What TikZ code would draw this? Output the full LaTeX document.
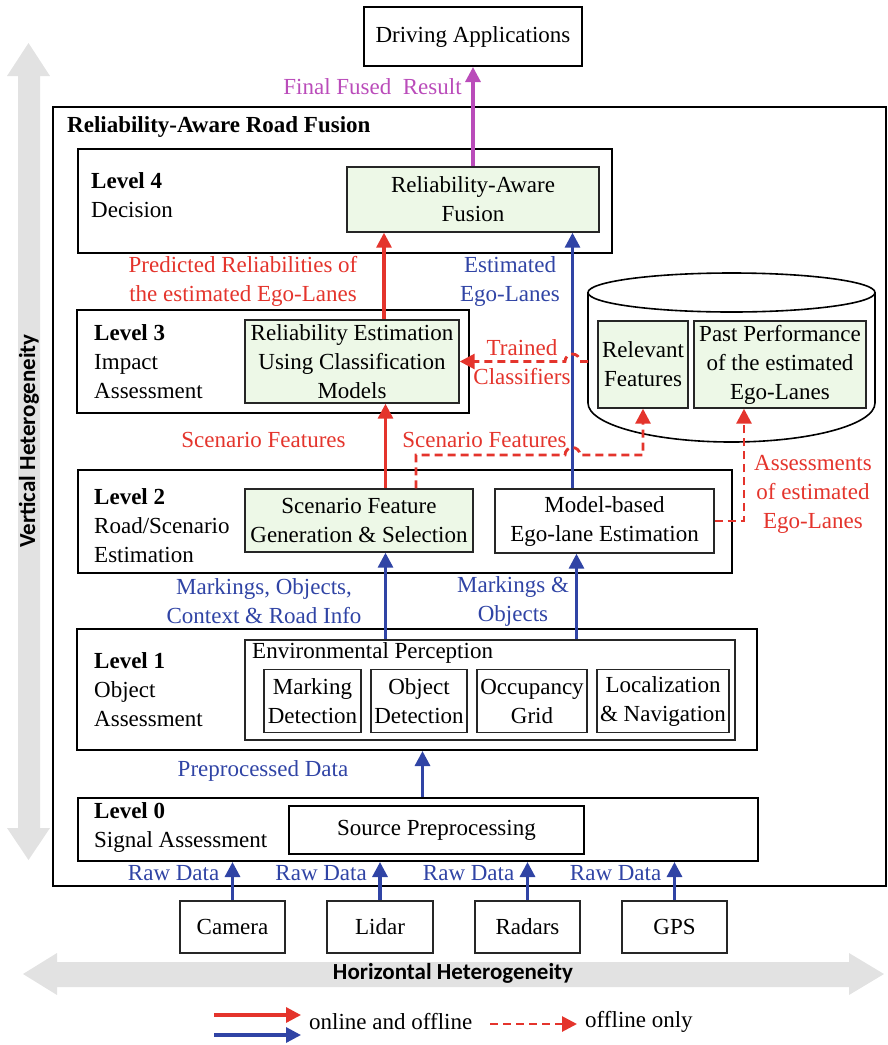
\documentclass[tikz,border=0pt]{standalone}
\usepackage{fontspec}
\setmainfont{Liberation Serif}
\newfontfamily\hetfont{Carlito}
\usepackage{tikz}
\usetikzlibrary{arrows.meta}

\definecolor{fusred}{RGB}{228,52,44}
\definecolor{fusblue}{RGB}{48,68,165}
\definecolor{fusmag}{RGB}{186,76,186}
\definecolor{boxgreen}{RGB}{237,248,231}
\definecolor{hetgray}{RGB}{226,226,226}

\begin{document}
\begin{tikzpicture}[x=1pt, y=-1pt,
    every node/.style={font=\fontsize{23}{29}\selectfont, inner sep=0pt},
    lvl/.style={draw, line width=2pt},
    blk/.style={draw=black!85, line width=1.4pt, align=center},
    grn/.style={blk, fill=boxgreen},
    lbl/.style={align=center},
    tip/.style={-{Triangle[length=15pt,width=15pt]}},
    redarr/.style={tip, draw=fusred, line width=3.2pt},
    bluarr/.style={tip, draw=fusblue, line width=3.2pt},
    magarr/.style={tip, draw=fusmag, line width=3.2pt},
    dasharr/.style={redarr, line width=2.8pt, dash pattern=on 8pt off 5pt}]
  \useasboundingbox (0,0) rectangle (888,1045);

  % heterogeneity arrows
  \fill[hetgray] (18,76) -- (7,76) -- (28.5,43) -- (50,76) -- (40,76) -- (40,828)
    -- (50,828) -- (28.5,860) -- (7,828) -- (18,828) -- cycle;
  \node[rotate=90, font=\fontsize{23}{29}\hetfont\bfseries] (vhet) at (29,441) {Vertical Heterogeneity};
  \fill[hetgray] (57,962) -- (57,953) -- (23,974) -- (57,995) -- (57,987) -- (849,987)
    -- (849,995) -- (884,974) -- (849,953) -- (849,962) -- cycle;
  \node[font=\fontsize{23}{29}\hetfont\bfseries] (hhet) at (453,973) {Horizontal Heterogeneity};

  % top
  \node[lvl, minimum width=218, minimum height=59] (drive) at (473,36.5) {Driving Applications};
  \node[lvl, minimum width=833, minimum height=779] (fusion) at (469.5,496.5) {};
  \node[anchor=west, font=\fontsize{23}{29}\selectfont\bfseries] (title) at (67,127) {Reliability-Aware Road Fusion};

  % level 4
  \node[lvl, minimum width=534, minimum height=104] (L4) at (344.5,201) {};
  \node[anchor=west, align=left] (L4t) at (91,195) {\textbf{Level 4}\\Decision};
  \node[grn, minimum width=252, minimum height=65] (raf) at (473,199.5) {Reliability-Aware\\Fusion};

  % level 3
  \node[lvl, minimum width=392, minimum height=103] (L3) at (273,361.5) {};
  \node[anchor=west, align=left] (L3t) at (94,362) {\textbf{Level 3}\\Impact\\Assessment};
  \node[grn, minimum width=214, minimum height=83] (rel) at (352,361.5) {Reliability Estimation\\Using Classification\\Models};

  % database
  \draw[line width=1.6pt] (731.5,292.5) ellipse [x radius=143.5, y radius=19.5];
  \draw[line width=1.6pt] (588,292.5) -- (588,403) arc[start angle=180, end angle=0, x radius=143.5, y radius=39] -- (875,292.5);
  \node[grn, minimum width=90, minimum height=87] (relf) at (643,364.5) {Relevant\\Features};
  \node[grn, minimum width=172, minimum height=87] (past) at (780,364.5) {Past Performance\\of the estimated\\Ego-Lanes};
  \coordinate (dbw) at (588,361.5);

  % level 2
  \node[lvl, minimum width=654, minimum height=103] (L2) at (405,521.5) {};
  \node[anchor=west, align=left] (L2t) at (94,526) {\textbf{Level 2}\\Road/Scenario\\Estimation};
  \node[grn, minimum width=228, minimum height=63] (scen) at (359,520.5) {Scenario Feature\\Generation \& Selection};
  \node[blk, minimum width=219, minimum height=64] (model) at (604.5,521) {Model-based\\Ego-lane Estimation};

  % level 1
  \node[lvl, minimum width=680, minimum height=121] (L1) at (417,689.5) {};
  \node[anchor=west, align=left] (L1t) at (94,690) {\textbf{Level 1}\\Object\\Assessment};
  \node[blk, minimum width=490, minimum height=100] (env) at (490,690) {};
  \node[anchor=west] (envt) at (252,653) {Environmental Perception};
  \node[blk, minimum width=97, minimum height=63] (mark) at (312.5,701) {Marking\\Detection};
  \node[blk, minimum width=96, minimum height=63] (objd) at (419,701) {Object\\Detection};
  \node[blk, minimum width=110, minimum height=63] (occ) at (532,701) {Occupancy\\Grid};
  \node[blk, minimum width=132, minimum height=63] (loc) at (663,701) {Localization\\\& Navigation};

  % level 0
  \node[lvl, minimum width=680, minimum height=63] (L0) at (418,829.5) {};
  \node[anchor=west, align=left] (L0t) at (94,827.5) {\textbf{Level 0}\\Signal Assessment};
  \node[lvl, minimum width=295, minimum height=48] (src) at (436.5,830) {Source Preprocessing};

  % sensors
  \node[blk, minimum width=105, minimum height=52] (cam) at (232.5,927) {Camera};
  \node[blk, minimum width=106, minimum height=52] (lid) at (380,927) {Lidar};
  \node[blk, minimum width=105, minimum height=52] (rad) at (527.5,927) {Radars};
  \node[blk, minimum width=105, minimum height=52] (gps) at (674.5,927) {GPS};

  % columns for connectors
  \coordinate (c1) at (384,0);
  \coordinate (c2) at (572.5,0);
  \coordinate (c3) at (385.5,0);
  \coordinate (c4) at (576.5,0);
  \coordinate (c5) at (422.5,0);
  \coordinate (sf) at (416,455);
  \coordinate (as) at (744,521);

  % connectors
  \draw[magarr] (raf.north) -- (drive.south);
  \draw[redarr] (rel.north -| c1) -- (raf.south -| c1);
  \draw[bluarr] (model.north -| c2) -- (raf.south -| c2);
  \draw[redarr] (scen.north -| c3) -- (rel.south -| c3);
  \draw[bluarr] (env.north -| c3) -- (scen.south -| c3);
  \draw[bluarr] (env.north -| c4) -- (model.south -| c4);
  \draw[bluarr] (L0.north -| c5) -- (L1.south -| c5);
  \draw[dasharr] (dbw) -- (580,361.5) arc[start angle=0, end angle=-180, radius=7.5] -- (rel.east);
  \draw[dasharr] (scen.north -| sf) -- (sf) -- (565,455) arc[start angle=180, end angle=360, radius=7.5] -- (relf.south |- sf) -- (relf.south);
  \draw[dasharr] (model.east) -- (as) -- (past.south -| as);
  \foreach \s in {cam,lid,rad,gps}
    \draw[bluarr] (\s.north) -- (\s.north |- L0.south);

  % labels
  \node[text=fusmag] (lfin) at (372.5,87) {Final Fused~~Result};
  \node[lbl, text=fusred] (lpred) at (243,281.5) {Predicted Reliabilities of\\the estimated Ego-Lanes};
  \node[lbl, text=fusblue] (lest) at (510,281.5) {Estimated\\Ego-Lanes};
  \node[lbl, text=fusred] (ltrain) at (522,362.5) {Trained\\Classifiers};
  \node[text=fusred] (lsf1) at (263.5,440) {Scenario Features};
  \node[text=fusred] (lsf2) at (484.5,440) {Scenario Features};
  \node[lbl, text=fusred] (lass) at (813,494) {Assessments\\of estimated\\Ego-Lanes};
  \node[lbl, text=fusblue] (lmoc) at (264,601) {Markings, Objects,\\Context \& Road Info};
  \node[lbl, text=fusblue] (lmo) at (513,601) {Markings \&\\Objects};
  \node[text=fusblue] (lpre) at (263,771) {Preprocessed Data};
  \foreach \s in {cam,lid,rad,gps}
    \node[text=fusblue, anchor=east] at ([xshift=-13pt]\s.north |- 0,873) {Raw Data};

  % legend
  \coordinate (lr1) at (214,1015);
  \coordinate (lr2) at (301,1015);
  \coordinate (lb1) at (214,1035);
  \coordinate (lb2) at (301,1035);
  \coordinate (ld1) at (490,1024);
  \coordinate (ld2) at (577,1024);
  \draw[redarr] (lr1) -- (lr2);
  \draw[bluarr] (lb1) -- (lb2);
  \draw[dasharr] (ld1) -- (ld2);
  \node[anchor=west] (lon) at (309,1022) {online and offline};
  \node[anchor=west] (loff) at (585,1022) {offline only};
\end{tikzpicture}
\end{document}
